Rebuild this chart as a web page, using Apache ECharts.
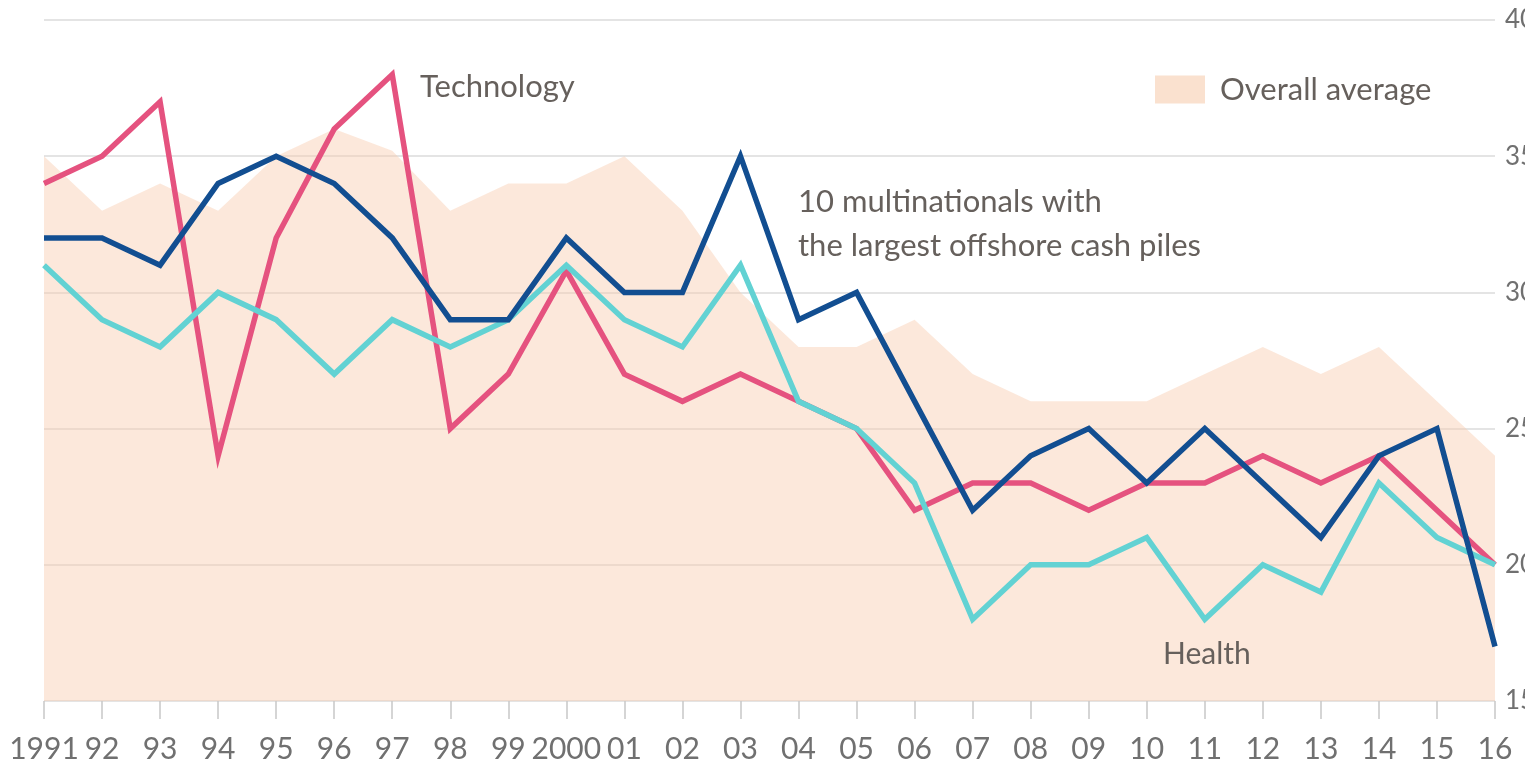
<!DOCTYPE html>
<html>
<head>
<meta charset="utf-8">
<script src="https://cdn.jsdelivr.net/npm/echarts@6/dist/echarts.min.js"></script>
<style>
  html, body { margin: 0; padding: 0; background: #fff; overflow: hidden; }
  #chart { width: 1525px; height: 766px; }
</style>
</head>
<body>
<div id="chart"></div>
<script>
const years = ['1991', '92', '93', '94', '95', '96', '97', '98', '99', '2000',
  '01', '02', '03', '04', '05', '06', '07', '08', '09', '10',
  '11', '12', '13', '14', '15', '16'];

// tax rate, %
const overallAverage = [35, 33, 34, 33, 35, 36, 35.2, 33, 34, 34,
  35, 33, 30, 28, 28, 29, 27, 26, 26, 26,
  27, 28, 27, 28, 26, 24];
const multinationals = [32, 32, 31, 34, 35, 34, 32, 29, 29, 32,
  30, 30, 35, 29, 30, 26, 22, 24, 25, 23,
  25, 23, 21, 24, 25, 17];
const technology = [34, 35, 37, 24, 32, 36, 38, 25, 27, 30.8,
  27, 26, 27, 26, 25, 22, 23, 23, 22, 23,
  23, 24, 23, 24, 22, 20];
const health = [31, 29, 28, 30, 29, 27, 29, 28, 29, 31,
  29, 28, 31, 26, 25, 23, 18, 20, 20, 21,
  18, 20, 19, 23, 21, 20];

const font = 'Lato, "Open Sans", sans-serif';
const textGrey = '#66605c';

const chart = echarts.init(document.getElementById('chart'));

const lineSeries = (name, data, color) => ({
  name,
  type: 'line',
  data,
  showSymbol: false,
  symbol: 'none',
  lineStyle: { color, width: 5.5, join: 'miter' },
  itemStyle: { color },
  z: 3
});

chart.setOption({
  animation: false,
  backgroundColor: '#fff',
  grid: { left: 44, right: 30, top: 20, bottom: 65, containLabel: false, outerBoundsMode: 'none' },
  legend: {
    left: 1150,
    top: 69,
    icon: 'rect',
    itemWidth: 50,
    itemHeight: 28,
    data: [{ name: 'Overall average', itemStyle: { color: '#fae1cf' } }],
    textStyle: { fontFamily: font, fontSize: 31, color: textGrey, padding: [0, 0, 0, 10] }
  },
  xAxis: {
    type: 'category',
    data: years,
    boundaryGap: false,
    axisLine: { show: false },
    axisTick: { show: true, length: 18, lineStyle: { color: '#c8c8c8', width: 1.5 } },
    axisLabel: { fontFamily: font, fontSize: 30, color: '#707070', margin: 33, interval: 0 },
    splitLine: { show: false }
  },
  yAxis: {
    type: 'value',
    position: 'right',
    min: 15,
    max: 40,
    interval: 5,
    axisLine: { show: false },
    axisTick: { show: false },
    axisLabel: { fontFamily: font, fontSize: 26, color: '#707070', margin: 10 },
    splitLine: { lineStyle: { color: '#e4e4e4', width: 2 } }
  },
  series: [
    {
      name: 'Overall average',
      type: 'line',
      data: overallAverage,
      showSymbol: false,
      symbol: 'none',
      lineStyle: { width: 0 },
      itemStyle: { color: '#fae1cf' },
      areaStyle: { color: 'rgba(247, 203, 172, 0.62)', origin: 'start' },
      z: 2
    },
    lineSeries('Technology', technology, '#e5527f'),
    lineSeries('Health', health, '#62d2d3'),
    lineSeries('10 multinationals with the largest offshore cash piles', multinationals, '#124e91')
  ],
  graphic: [
    {
      type: 'text', left: 420, top: 71, z: 10,
      style: { text: 'Technology', fontFamily: font, fontSize: 31, fill: textGrey }
    },
    {
      type: 'text', left: 798, top: 180, z: 10,
      style: {
        text: '10 multinationals with\nthe largest offshore cash piles',
        fontFamily: font, fontSize: 31, lineHeight: 44, fill: textGrey
      }
    },
    {
      type: 'text', left: 1163, top: 639, z: 10,
      style: { text: 'Health', fontFamily: font, fontSize: 30, fill: textGrey }
    }
  ]
});
</script>
</body>
</html>
